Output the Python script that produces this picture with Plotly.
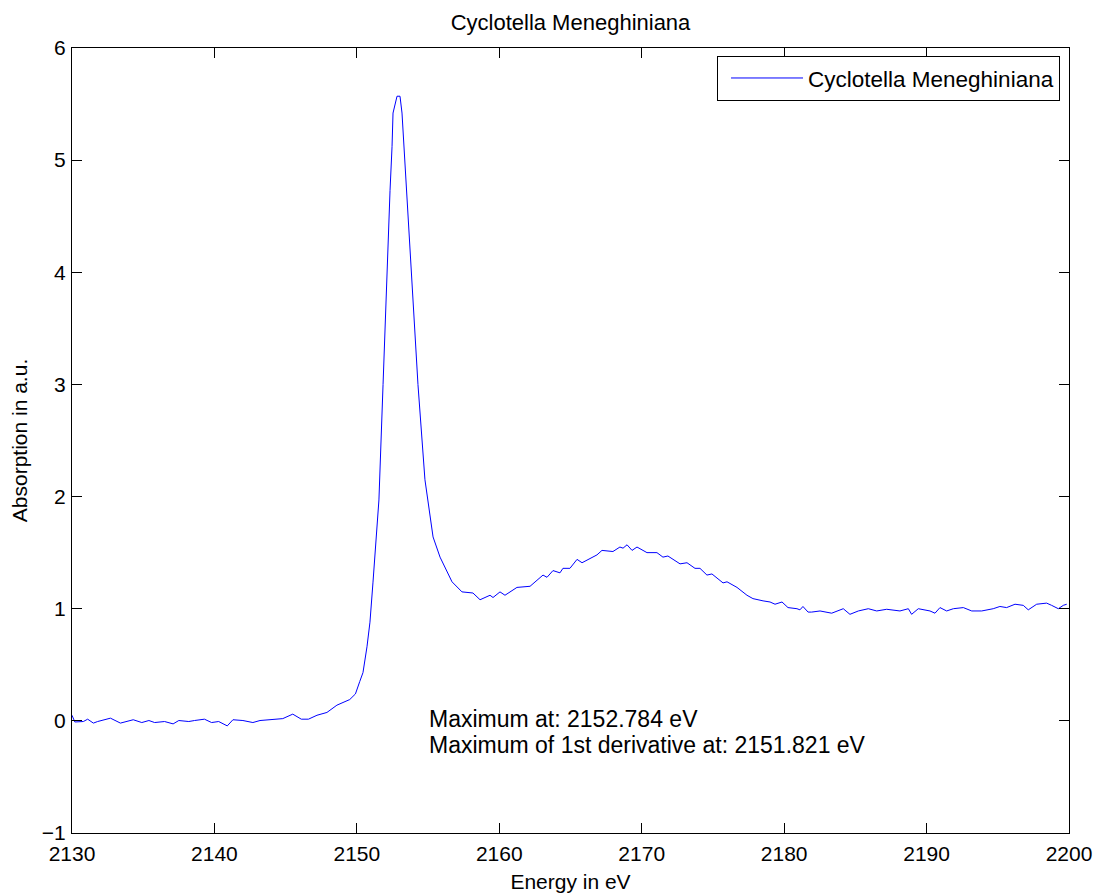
import plotly.graph_objects as go

# Energy (eV) and absorption (a.u.)
energy = [2130.0, 2130.2, 2130.8, 2131.1, 2131.5, 2131.8, 2132.7, 2133.4, 2134.3, 2134.9,
          2135.4, 2135.8, 2136.5, 2137.1, 2137.5, 2138.2, 2138.6, 2139.3, 2139.8, 2140.3,
          2140.9, 2141.3, 2142.0, 2142.7, 2143.2, 2143.9, 2144.8, 2145.5, 2146.1, 2146.6,
          2147.2, 2147.9, 2148.6, 2149.5, 2149.9, 2150.2, 2150.43, 2150.71, 2150.92, 2151.13,
          2151.41, 2151.55, 2151.84, 2152.12, 2152.19, 2152.33, 2152.47, 2152.54, 2152.82, 2153.03,
          2153.17, 2153.31, 2153.52, 2153.66, 2153.87, 2154.29, 2154.78, 2155.0, 2155.35, 2155.84,
          2156.68, 2157.38, 2158.15, 2158.65, 2159.35, 2159.56, 2160.05, 2160.40, 2161.24, 2162.16,
          2163.07, 2163.35, 2163.77, 2164.26, 2164.47, 2164.96, 2165.46, 2165.81, 2166.86, 2167.21,
          2167.98, 2168.47, 2168.69, 2168.97, 2169.32, 2169.67, 2170.37, 2171.07, 2171.49, 2171.84,
          2172.20, 2172.69, 2173.18, 2173.74, 2174.09, 2174.58, 2174.93, 2175.71, 2175.99, 2176.69,
          2177.39, 2177.81, 2178.52, 2179.01, 2179.36, 2179.85, 2180.27, 2180.90, 2181.11, 2181.32,
          2181.68, 2181.93, 2182.52, 2183.34, 2184.15, 2184.62, 2185.21, 2185.91, 2186.50, 2187.20,
          2188.13, 2188.72, 2188.95, 2189.42, 2190.24, 2190.59, 2190.94, 2191.41, 2191.88, 2192.58,
          2193.17, 2193.87, 2194.68, 2195.15, 2195.62, 2196.21, 2196.79, 2197.14, 2197.73, 2198.43,
          2198.78, 2199.25, 2199.60, 2199.84]
absorption = [0.05, -0.01, -0.006, 0.015, -0.02, -0.006, 0.024, -0.02, 0.01, -0.015,
              0.003, -0.015, -0.006, -0.027, 0.003, -0.006, 0.003, 0.015, -0.015, -0.006,
              -0.045, 0.01, 0.003, -0.015, 0.003, 0.01, 0.02, 0.06, 0.015, 0.015,
              0.05, 0.075, 0.14, 0.19, 0.24, 0.35, 0.43, 0.66, 0.88, 1.23,
              1.68, 1.97, 3.0, 3.96, 4.38, 4.73, 5.12, 5.42, 5.57, 5.57,
              5.42, 5.12, 4.76, 4.38, 4.0, 3.0, 2.15, 1.97, 1.64, 1.46,
              1.24, 1.15, 1.14, 1.08, 1.12, 1.10, 1.15, 1.12, 1.19, 1.20,
              1.30, 1.28, 1.34, 1.32, 1.36, 1.36, 1.44, 1.41, 1.48, 1.52,
              1.51, 1.55, 1.54, 1.57, 1.52, 1.55, 1.50, 1.50, 1.46, 1.47,
              1.44, 1.40, 1.41, 1.36, 1.36, 1.30, 1.31, 1.23, 1.24, 1.19,
              1.12, 1.09, 1.07, 1.06, 1.04, 1.06, 1.01, 1.00, 0.99, 1.02,
              0.97, 0.97, 0.98, 0.96, 1.00, 0.95, 0.98, 1.00, 0.98, 0.995,
              0.98, 1.00, 0.95, 1.00, 0.98, 0.96, 1.01, 0.98, 1.00, 1.01,
              0.98, 0.98, 1.00, 1.02, 1.01, 1.04, 1.03, 0.99, 1.04, 1.05,
              1.03, 1.00, 1.03, 1.04]

title_text = "Cyclotella Meneghiniana"
series_name = "Cyclotella Meneghiniana"
x_title = "Energy in eV"
y_title = "Absorption in a.u."
note_lines = ["Maximum at: 2152.784 eV", "Maximum of 1st derivative at: 2151.821 eV"]
note_x = 2154.9
note_y = [0.02, -0.215]

FONT = "Liberation Sans, Arial, Helvetica, sans-serif"
FS = 21

fig = go.Figure()
fig.add_trace(go.Scatter(x=energy, y=absorption, mode="lines", name=series_name,
                         line=dict(color="rgb(0,0,255)", width=1)))

for txt, yy in zip(note_lines, note_y):
    fig.add_annotation(x=note_x, y=yy, xref="x", yref="y",
                       text=txt, showarrow=False,
                       xanchor="left", yanchor="middle", align="left",
                       font=dict(family=FONT, size=23, color="black"))

axis_common = dict(showline=True, linecolor="black", linewidth=1, mirror="ticks",
                   ticks="inside", ticklen=10, tickcolor="black", tickwidth=1,
                   showgrid=False, zeroline=False, automargin=False,
                   tickfont=dict(family=FONT, size=FS, color="black"))

fig.update_layout(
    width=1094, height=893,
    margin=dict(l=72, r=25, t=48, b=60),
    paper_bgcolor="white", plot_bgcolor="white",
    font=dict(family=FONT, size=FS, color="black"),
    title=dict(text=title_text, x=570.5 / 1094, xanchor="center",
               y=1 - 22.5 / 893, yanchor="middle",
               font=dict(family=FONT, size=22, color="black")),
    xaxis=dict(range=[2130, 2200], dtick=10, tick0=2130, ticklabelstandoff=2,
               title=dict(text=x_title, standoff=18, font=dict(family=FONT, size=FS)),
               **axis_common),
    yaxis=dict(range=[-1, 6], dtick=1, tick0=0, ticklabelstandoff=1,
               title=dict(text=y_title, standoff=8, font=dict(family=FONT, size=FS)),
               **axis_common),
    showlegend=True,
    legend=dict(x=0.991, xanchor="right", y=0.99, yanchor="top",
                bgcolor="white", bordercolor="black", borderwidth=1,
                itemwidth=72, indentation=8,
                font=dict(family=FONT, size=22.5, color="black")),
)

fig.write_html("out.html", config={"displayModeBar": False},
               post_script="document.body.style.margin='0';document.body.style.overflow='hidden';")
